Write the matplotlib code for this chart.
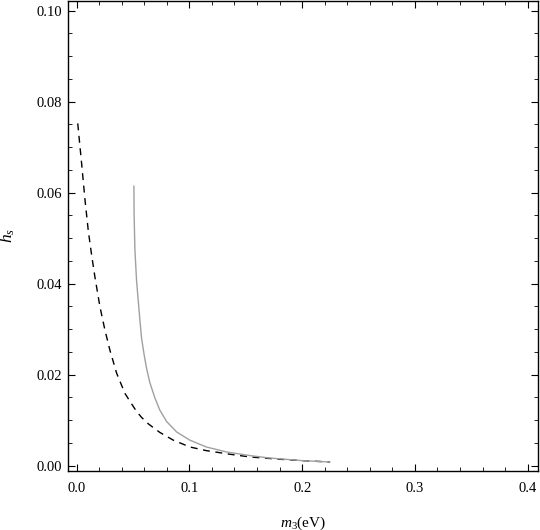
import numpy as np
from matplotlib import pyplot as plt
from matplotlib.ticker import MultipleLocator, FormatStrFormatter

# dashed curve
m_dash = [0.0010, 0.0044, 0.0074, 0.0104, 0.0133, 0.0162, 0.0207, 0.0251, 0.0295,
          0.0355, 0.0428, 0.0476, 0.0532, 0.0576, 0.0640, 0.0738, 0.0857, 0.1004,
          0.115, 0.136, 0.154, 0.180, 0.200, 0.2245]
h_dash = [0.0752, 0.0665, 0.0585, 0.0515, 0.0463, 0.0415, 0.0349, 0.0298, 0.0254,
          0.0203, 0.0159, 0.0140, 0.0119, 0.0106, 0.0091, 0.0073, 0.0056, 0.0041,
          0.0033, 0.0025, 0.0019, 0.0014, 0.0011, 0.0008]

# solid gray curve
m_solid = [0.0508, 0.0510, 0.0517, 0.0532, 0.0546, 0.0562, 0.0576, 0.0600, 0.0620,
           0.0650, 0.0694, 0.0738, 0.0798, 0.0887, 0.1004, 0.115, 0.133, 0.154,
           0.170, 0.185, 0.200, 0.2245]
h_solid = [0.0614, 0.0550, 0.0474, 0.0405, 0.0364, 0.0318, 0.0280, 0.0242, 0.0214,
           0.0182, 0.0149, 0.0122, 0.0097, 0.0074, 0.0056, 0.0041, 0.0030, 0.0022,
           0.0017, 0.0014, 0.0011, 0.0008]

plt.rcParams['font.family'] = ['Liberation Serif', 'DejaVu Serif']
plt.rcParams['mathtext.fontset'] = 'custom'
plt.rcParams['mathtext.it'] = 'Liberation Serif:italic'
plt.rcParams['mathtext.rm'] = 'Liberation Serif'

fig = plt.figure(figsize=(5.4, 5.3), dpi=100)
ax = fig.add_axes([0.126, 0.112, 0.870, 0.887])

ax.plot(m_dash, h_dash, color='black', lw=1.0, dashes=(5, 4))
ax.plot(m_solid, h_solid, color='#a0a0a0', lw=1.0)

ax.set_xlim(-0.0076, 0.409)
ax.set_ylim(-0.0011, 0.1022)

ax.xaxis.set_major_locator(MultipleLocator(0.1))
ax.xaxis.set_minor_locator(MultipleLocator(0.02))
ax.yaxis.set_major_locator(MultipleLocator(0.02))
ax.yaxis.set_minor_locator(MultipleLocator(0.005))
ax.xaxis.set_major_formatter(FormatStrFormatter('%.1f'))
ax.yaxis.set_major_formatter(FormatStrFormatter('%.2f'))

ax.tick_params(which='both', direction='in', top=True, right=True, labelsize=10.5)
ax.tick_params(which='major', length=5, width=0.8)
ax.tick_params(which='minor', length=3, width=0.6)
ax.tick_params(axis='x', pad=8)
ax.tick_params(axis='y', pad=4)
for s in ax.spines.values():
    s.set_linewidth(1.0)

ax.set_xlabel(r'$m_3$(eV)', fontsize=11, labelpad=14)
ax.set_ylabel(r'$h_s$', fontsize=12.5, labelpad=14)

fig.savefig('out.png', dpi=100)
